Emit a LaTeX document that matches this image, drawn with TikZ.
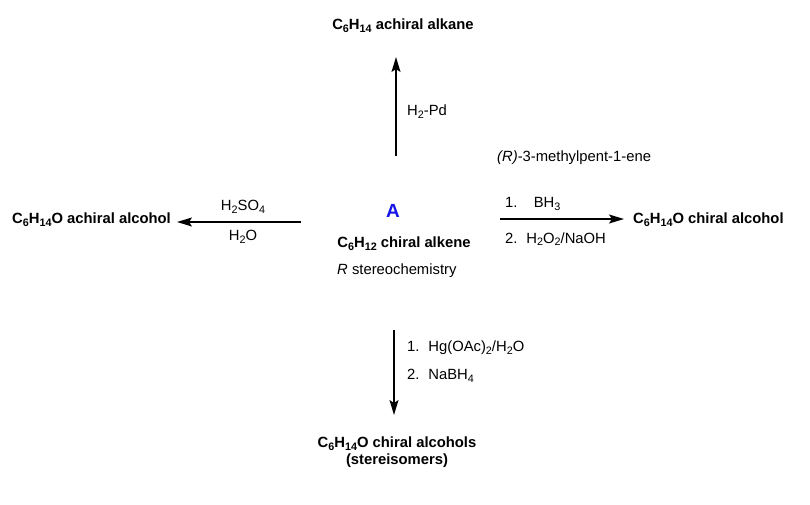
\documentclass[tikz,border=0pt]{standalone}
\usepackage{fontspec}
\setmainfont{Liberation Sans}
\usetikzlibrary{arrows.meta,positioning}
\definecolor{labelBlue}{RGB}{20,20,230}
\newcommand{\sbs}[1]{\raisebox{-0.35ex}{\fontsize{10.8}{10}\selectfont #1}}

\begin{document}
\begin{tikzpicture}[x=1pt,y=-1pt,
      every node/.style={inner sep=0pt,font=\fontsize{14.8}{17}\selectfont},
      prod/.style={font=\fontsize{14.8}{17}\selectfont\bfseries},
      arr/.style={-{Stealth[length=15pt,width=9pt,inset=3pt]},line width=1.5pt}
    ]
    \useasboundingbox (0,0) rectangle (810,504);
    % starting alkene
    \node[font=\fontsize{19}{20}\selectfont\bfseries,text=labelBlue] (lblA) at (393,211) {A};
    \node[prod] (alkene) at (404,244) {C\sbs{6}H\sbs{12} chiral alkene};
    \node[anchor=west] (stereo) at (337,271) {\textit{R} stereochemistry};
    \node[anchor=west] (name) at (497,158) {\textit{(R)}-3-methylpent-1-ene};
    % products
    \node[prod] (alkane) at (403,26) {C\sbs{6}H\sbs{14} achiral alkane};
    \node[prod,anchor=west] (achAlc) at (12,220) {C\sbs{6}H\sbs{14}O achiral alcohol};
    \node[prod,anchor=west] (chAlc) at (633,220) {C\sbs{6}H\sbs{14}O chiral alcohol};
    \node[prod,align=center] (chAlcs) at (397,452) {C\sbs{6}H\sbs{14}O chiral alcohols\\(stereisomers)};
    % arrow ends
    \coordinate (upS) at (396,156);
    \coordinate (upE) at (396,57);
    \coordinate (leftS) at (301,222);
    \coordinate (leftE) at (177,222);
    \coordinate (rightS) at (500,219);
    \coordinate (rightE) at (624,219);
    \coordinate (downS) at (394,330);
    \coordinate (downE) at (394,415);
    \draw[arr] (upS) -- (upE);
    \draw[arr] (leftS) -- (leftE);
    \draw[arr] (rightS) -- (rightE);
    \draw[arr] (downS) -- (downE);
    % reagents
    \node[anchor=west] (h2pd) at (407,112) {H\sbs{2}-Pd};
    \node (h2so4) at (243,207) {H\sbs{2}SO\sbs{4}};
    \node (h2o) at (243,237) {H\sbs{2}O};
    \node[anchor=west] (bh3) at (505,204) {1.\hspace{1.1em}BH\sbs{3}};
    \node[anchor=west] (perox) at (505,239) {2.\hspace{0.6em}H\sbs{2}O\sbs{2}/NaOH};
    \node[anchor=west] (hgoac) at (407,348) {1.\hspace{0.6em}Hg(OAc)\sbs{2}/H\sbs{2}O};
    \node[anchor=west] (nabh4) at (407,376) {2.\hspace{0.6em}NaBH\sbs{4}};
  \end{tikzpicture}
\end{document}
